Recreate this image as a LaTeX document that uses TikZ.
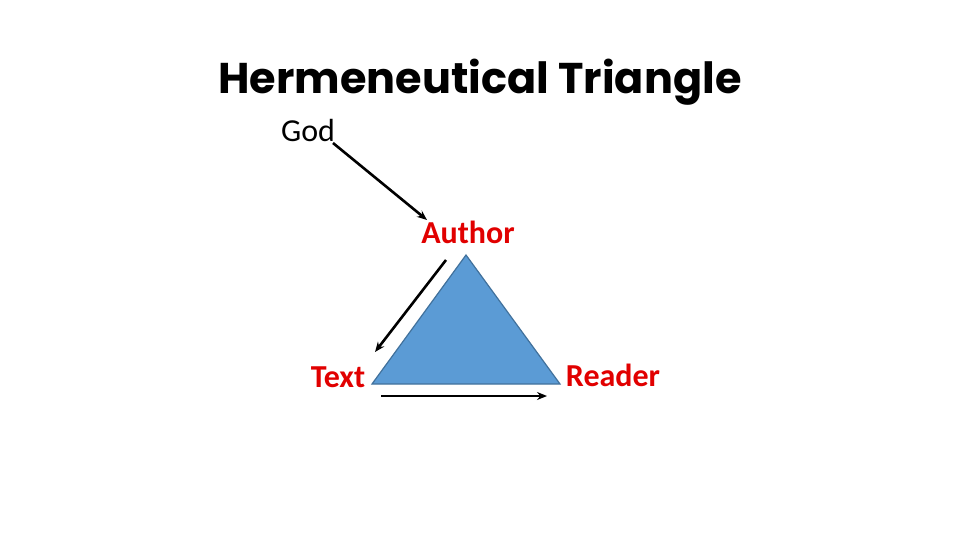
\documentclass[tikz,border=0pt]{standalone}
\usepackage{fontspec}
\setmainfont{Carlito}
\newfontfamily\titlefont{Poppins}[UprightFont=* Bold]
\usetikzlibrary{arrows.meta}
\definecolor{labred}{RGB}{225,0,0}
\definecolor{trifill}{RGB}{91,155,213}
\definecolor{triedge}{RGB}{65,113,156}
\tikzset{
  lbl/.style={inner sep=0pt, font=\fontsize{32}{36}\selectfont},
  redlbl/.style={lbl, text=labred, font=\fontsize{32}{36}\selectfont\bfseries},
  arr/.style={line width=2.6pt, -{Stealth[length=10pt,width=8pt]}}
}
\begin{document}
\begin{tikzpicture}[x=1pt,y=-1pt]
\useasboundingbox (0,0) rectangle (960,540);
\node[inner sep=0pt, font=\titlefont\fontsize{43}{48}\selectfont] (title) at (480,82) {Hermeneutical Triangle};
\node[lbl] (god) at (308,131) {God};
\node[redlbl] (author) at (468,232) {Author};
\node[redlbl] (text) at (338,377) {Text};
\node[redlbl] (reader) at (613,375) {Reader};
\coordinate (apex) at (466,255);
\coordinate (bl) at (372,384);
\coordinate (br) at (560,384);
\draw[fill=trifill, draw=triedge, line width=1.2pt, line join=miter] (apex) -- (bl) -- (br) -- cycle;
\coordinate (g1) at (333,143);
\coordinate (g2) at (427,220);
\coordinate (a1) at (446,260);
\coordinate (a2) at (375,352);
\coordinate (t1) at (381,396);
\coordinate (t2) at (547,396);
\draw[arr] (g1) -- (g2);
\draw[arr] (a1) -- (a2);
\draw[arr, line width=2.2pt] (t1) -- (t2);
\end{tikzpicture}
\end{document}
